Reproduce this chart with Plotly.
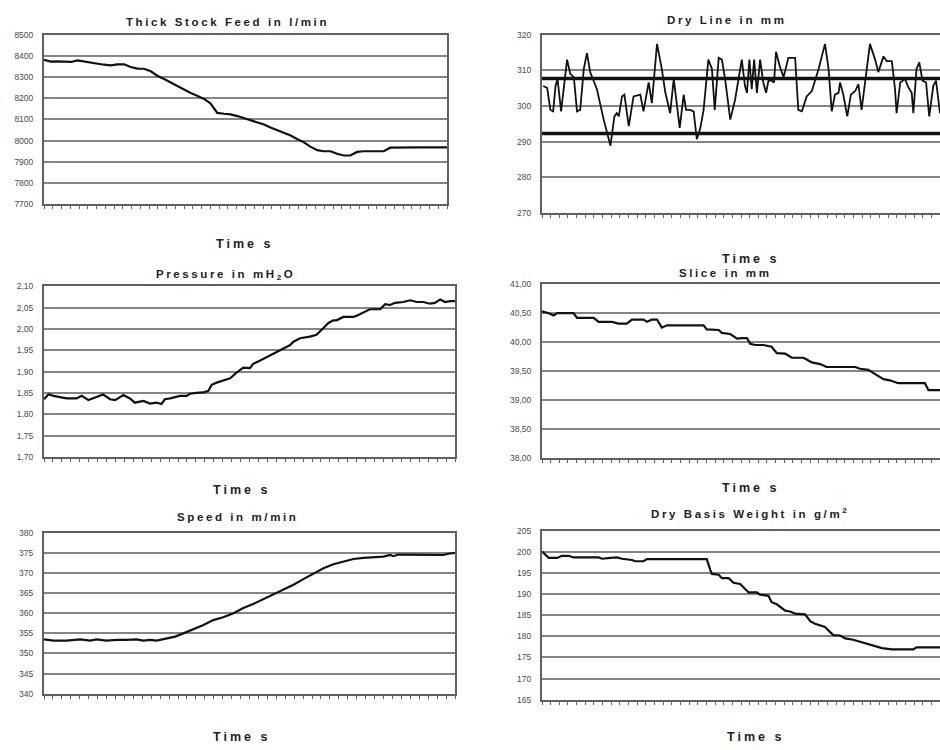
import plotly.graph_objects as go

# ---- Thick stock feed (l/min) ----
feed_t = [0, 1.7, 3.3, 5.0, 6.7, 8.3, 10.0, 11.6, 13.3, 14.9, 16.6, 18.2, 19.9, 21.5,
          23.2, 24.8, 26.5, 28.1, 29.8, 31.4, 33.1, 34.7, 36.4, 38.0, 39.7, 41.3, 43.0,
          44.7, 46.3, 48.0, 49.6, 51.3, 52.9, 54.6, 56.2, 57.9, 59.5, 61.2, 62.8, 64.5,
          66.1, 67.8, 69.4, 71.1, 72.7, 74.4, 76.0, 77.7, 79.3, 81.0, 82.6, 84.3, 85.9,
          87.6, 90.0, 93.0, 96.0, 100]
feed_v = [8381, 8373, 8374, 8371, 8371, 8378, 8373, 8365, 8361, 8358, 8355, 8360, 8360,
          8347, 8340, 8339, 8327, 8306, 8291, 8274, 8256, 8241, 8225, 8212, 8197, 8176,
          8131, 8127, 8124, 8116, 8106, 8095, 8088, 8076, 8062, 8050, 8038, 8024, 8008,
          7992, 7972, 7955, 7950, 7950, 7938, 7930, 7930, 7947, 7950, 7950, 7950, 7950,
          7967, 7968, 7968, 7968, 7968, 7968]

# ---- Dry line position (mm) with upper / lower limits ----
dry_t = [0.3, 1.3, 2.1, 2.8, 3.4, 3.9, 4.8, 6.3, 7.1, 8.0, 8.8, 9.6, 10.5, 11.3, 12.1,
         13.8, 15.5, 17.2, 18.2, 18.8, 19.3, 20.1, 20.7, 21.8, 23.0, 24.7, 25.5, 26.8,
         27.6, 28.9, 30.1, 31.0, 32.2, 33.1, 34.6, 35.6, 36.2, 37.2, 38.1, 38.9, 39.8,
         40.6, 41.8, 42.7, 43.4, 44.4, 45.2, 46.0, 47.3, 48.5, 50.2, 51.0, 51.5, 52.1,
         52.7, 53.3, 54.0, 54.8, 55.6, 56.3, 56.9, 57.7, 58.3, 58.8, 59.8, 60.7, 61.9,
         63.6, 64.4, 65.3, 66.5, 67.8, 69.5, 71.1, 72.0, 72.8, 73.6, 74.5, 74.9, 75.7,
         76.7, 77.6, 78.7, 79.5, 80.3, 81.2, 82.4, 83.7, 84.5, 85.8, 86.6, 87.9, 88.7,
         89.1, 90.0, 91.2, 92.1, 92.9, 93.3, 94.1, 94.8, 95.6, 96.5, 97.3, 98.3, 99.0, 100]
dry_v = [305.6, 305.1, 298.9, 298.5, 305.6, 307.6, 298.5, 313.0, 309.0, 308.1, 298.5,
         298.9, 310.4, 314.8, 309.5, 304.7, 296.2, 288.9, 297.1, 298.0, 297.1, 302.7,
         303.2, 294.4, 302.7, 303.2, 298.5, 306.6, 300.8, 317.4, 310.4, 303.7, 298.0,
         307.6, 293.9, 303.2, 298.9, 298.9, 298.5, 290.7, 293.9, 298.9, 313.0, 310.4,
         298.9, 313.5, 313.0, 307.6, 296.2, 301.7, 313.0, 305.6, 303.7, 313.0, 304.7,
         313.0, 303.7, 313.0, 306.6, 303.7, 307.1, 307.1, 306.6, 315.2, 310.9, 308.1,
         313.5, 313.5, 298.9, 298.5, 302.7, 304.2, 310.4, 317.4, 310.4, 298.5, 303.2,
         303.7, 306.6, 303.2, 297.1, 303.2, 304.2, 306.1, 298.9, 306.6, 317.4, 313.0,
         309.5, 313.9, 312.6, 312.6, 304.7, 298.0, 306.6, 307.6, 305.1, 303.7, 298.0,
         310.4, 312.2, 307.1, 306.6, 297.1, 305.6, 307.1, 298.0]
dry_upper = 307.7
dry_lower = 292.3

# ---- Headbox pressure (mH2O) ----
pres_t = [0, 1.1, 2.3, 5.5, 7.9, 9.2, 10.8, 12.8, 14.4, 16.1, 17.3, 19.3, 20.9, 22.1,
          24.2, 25.8, 27.4, 28.6, 29.4, 30.7, 33.1, 34.7, 35.5, 37.1, 38.8, 40.0, 40.8,
          42.0, 43.6, 45.3, 46.9, 48.5, 50.1, 50.9, 52.6, 54.2, 55.8, 58.2, 59.9, 60.7,
          62.3, 64.7, 66.3, 68.0, 69.2, 70.4, 71.2, 72.8, 75.3, 76.1, 77.7, 79.3, 81.8,
          83.0, 84.2, 85.4, 87.4, 89.1, 90.7, 92.3, 93.9, 95.1, 96.4, 97.6, 98.8, 100]
pres_v = [1.835, 1.847, 1.843, 1.837, 1.837, 1.843, 1.833, 1.841, 1.846, 1.835, 1.833,
          1.845, 1.837, 1.827, 1.831, 1.825, 1.827, 1.824, 1.835, 1.837, 1.843, 1.843,
          1.848, 1.850, 1.851, 1.855, 1.869, 1.874, 1.878, 1.884, 1.898, 1.909, 1.908,
          1.918, 1.926, 1.934, 1.942, 1.954, 1.962, 1.970, 1.978, 1.982, 1.986, 2.002,
          2.014, 2.020, 2.020, 2.028, 2.028, 2.031, 2.039, 2.046, 2.046, 2.058, 2.056,
          2.061, 2.063, 2.067, 2.063, 2.063, 2.059, 2.061, 2.069, 2.063, 2.065, 2.065]

# ---- Slice opening (mm) ----
slice_t = [0, 1.7, 2.9, 3.9, 7.9, 8.8, 13.0, 14.2, 17.6, 19.2, 21.3, 22.6, 25.5, 26.4,
           27.6, 28.9, 30.1, 31.4, 40.6, 41.4, 44.4, 45.2, 47.3, 49.0, 50.2, 51.5, 52.3,
           53.6, 55.6, 57.7, 59.0, 61.1, 62.8, 65.7, 66.5, 67.8, 69.9, 71.5, 78.7, 79.9,
           82.0, 82.8, 84.1, 85.8, 87.4, 89.5, 96.2, 97.1, 100]
slice_v = [40.53, 40.50, 40.46, 40.50, 40.50, 40.42, 40.42, 40.35, 40.35, 40.32, 40.32,
           40.39, 40.39, 40.35, 40.39, 40.39, 40.25, 40.29, 40.29, 40.22, 40.21, 40.16,
           40.14, 40.06, 40.07, 40.07, 39.97, 39.95, 39.95, 39.92, 39.81, 39.80, 39.73,
           39.73, 39.70, 39.65, 39.62, 39.57, 39.57, 39.54, 39.52, 39.49, 39.43, 39.36,
           39.34, 39.29, 39.29, 39.17, 39.17]

# ---- Machine speed (m/min) ----
speed_t = [0, 2.3, 5.5, 8.8, 11.2, 12.8, 15.2, 17.7, 20.1, 22.5, 24.2, 25.8, 27.4, 29.0,
           30.3, 31.9, 33.9, 36.3, 38.8, 41.2, 43.6, 46.1, 48.5, 50.9, 53.4, 55.8, 58.2,
           60.7, 63.1, 65.5, 68.0, 70.4, 72.8, 75.3, 77.7, 80.1, 82.6, 84.2, 85.0, 86.2,
           90.7, 94.7, 97.2, 98.4, 100]
speed_v = [353.5, 353.2, 353.2, 353.5, 353.2, 353.5, 353.2, 353.4, 353.4, 353.5, 353.2,
           353.4, 353.2, 353.5, 353.8, 354.2, 355.0, 356.0, 357.1, 358.3, 359.0, 360.0,
           361.3, 362.3, 363.5, 364.6, 365.7, 367.1, 368.5, 369.8, 371.2, 372.2, 372.9,
           373.5, 373.8, 373.9, 374.1, 374.5, 374.2, 374.6, 374.6, 374.6, 374.5, 374.8,
           375.0]

# ---- Dry basis weight (g/m2) ----
dbw_t = [0, 0.8, 1.7, 3.8, 5.0, 6.7, 7.9, 14.2, 15.1, 17.2, 18.8, 20.1, 22.6, 23.4,
         25.5, 26.4, 41.4, 42.3, 42.7, 44.4, 45.2, 46.9, 48.1, 49.8, 51.0, 51.9, 54.0,
         54.8, 56.9, 57.7, 59.0, 60.3, 61.1, 62.3, 63.6, 66.1, 67.4, 68.6, 69.9, 71.1,
         72.4, 73.2, 74.9, 76.2, 78.2, 80.3, 82.0, 83.3, 85.4, 87.9, 93.3, 94.1, 95.8, 100]
dbw_v = [200.1, 199.5, 198.6, 198.6, 199.1, 199.1, 198.7, 198.7, 198.4, 198.6, 198.7,
         198.4, 198.1, 197.8, 197.8, 198.3, 198.3, 195.7, 194.8, 194.6, 193.8, 193.8,
         192.7, 192.4, 191.2, 190.4, 190.4, 189.9, 189.6, 188.1, 187.6, 186.8, 186.1,
         185.9, 185.4, 185.2, 183.6, 183.0, 182.6, 182.2, 181.0, 180.3, 180.2, 179.5,
         179.2, 178.6, 178.0, 177.8, 177.2, 176.9, 176.9, 177.4, 177.4, 177.4]

titles = ["Thick Stock Feed in l/min", "Dry Line in mm", "Pressure in mH<sub>2</sub>O",
          "Slice in mm", "Speed in m/min", "Dry Basis Weight in g/m<sup>2</sup>"]
x_title = "Time s"

W, H = 940, 750
FONT = "Liberation Sans, Arial, sans-serif"
LINE = "#111111"
GRID = "#858585"
FRAME = "#606060"


def px_x(a, b):
    return [a / W, min(b / W, 1.0)]


def px_y(top, bottom):
    return [1 - bottom / H, 1 - top / H]


# panel boxes in pixels: (left, right, top, bottom)
boxes = [
    (44, 447, 30, 202),
    (542, 940, 30, 211),
    (44, 455, 285, 458),
    (542, 940, 283, 459),
    (44, 455, 535, 698),
    (542, 940, 533, 704),
]
yranges = [(7700, 8500, 100), (270, 320, 10), (1.70, 2.10, 0.05),
           (38.0, 41.0, 0.5), (340, 380, 5), (165, 205, 5)]
yformats = ["d", "d", ".2f", ".2f", "d", "d"]

fig = go.Figure()

series = [(feed_t, feed_v), (dry_t, dry_v), (pres_t, pres_v),
          (slice_t, slice_v), (speed_t, speed_v), (dbw_t, dbw_v)]

for i, (t, v) in enumerate(series):
    sfx = "" if i == 0 else str(i + 1)
    fig.add_trace(go.Scatter(x=t, y=v, mode="lines", xaxis="x" + sfx, yaxis="y" + sfx,
                             line=dict(color=LINE, width=1.8 if i == 1 else 2.2),
                             showlegend=False, hoverinfo="skip"))
    if i == 1:
        for lim in (dry_upper, dry_lower):
            fig.add_trace(go.Scatter(x=[0, 100], y=[lim, lim], mode="lines",
                                     xaxis="x2", yaxis="y2",
                                     line=dict(color=LINE, width=3.4),
                                     showlegend=False, hoverinfo="skip"))

layout = dict(
    width=W, height=H, margin=dict(l=0, r=0, t=0, b=0),
    paper_bgcolor="white", plot_bgcolor="white",
    separators=", ", font=dict(family=FONT, color="#333"),
)

annotations = []
for i, (l, r, top, bot) in enumerate(boxes):
    sfx = "" if i == 0 else str(i + 1)
    right_col = l > 400
    lo, hi, step = yranges[i]
    layout["xaxis" + sfx] = dict(
        domain=px_x(l, r), anchor="y" + sfx, range=[0, 100],
        showgrid=False, zeroline=False, showticklabels=False,
        ticks="outside", ticklen=3, tickwidth=1.2, tickcolor=FRAME,
        tick0=0, dtick=100 / 46,
        showline=True, linecolor=FRAME, linewidth=2, mirror=True,
    )
    layout["yaxis" + sfx] = dict(
        domain=px_y(top, bot), anchor="x" + sfx, range=[lo, hi],
        tick0=lo, dtick=step, tickformat=yformats[i],
        showgrid=True, gridcolor=GRID, gridwidth=1.5, zeroline=False,
        ticks="", ticklabelstandoff=7,
        tickfont=dict(size=8.5, color="#4a4a4a", family=FONT),
        showline=True, linecolor=FRAME, linewidth=2, mirror=not right_col,
    )

# panel titles
title_pos = [(227, 17), (726, 15), (225, 274), (725, 272), (238, 519), (750, 515)]
for (cx, cy), txt in zip(title_pos, titles):
    annotations.append(dict(
        x=cx / W, y=1 - cy / H, xref="paper", yref="paper", showarrow=False,
        xanchor="center", yanchor="middle",
        text='<span style="letter-spacing:2.6px">' + txt + "</span>",
        font=dict(size=11.5, family=FONT, color="#222", weight="bold"),
    ))

# time axis captions
time_pos = [(244, 242), (750, 257), (242, 492), (750, 490), (242, 742), (755, 742)]
for cx, cy in time_pos:
    annotations.append(dict(
        x=cx / W, y=1 - cy / H, xref="paper", yref="paper", showarrow=False,
        xanchor="center", yanchor="middle",
        text='<span style="letter-spacing:3px">' + x_title + "</span>",
        font=dict(size=12.5, family=FONT, color="#222", weight="bold"),
    ))

layout["annotations"] = annotations
fig.update_layout(**layout)
fig.write_html("out.html")
